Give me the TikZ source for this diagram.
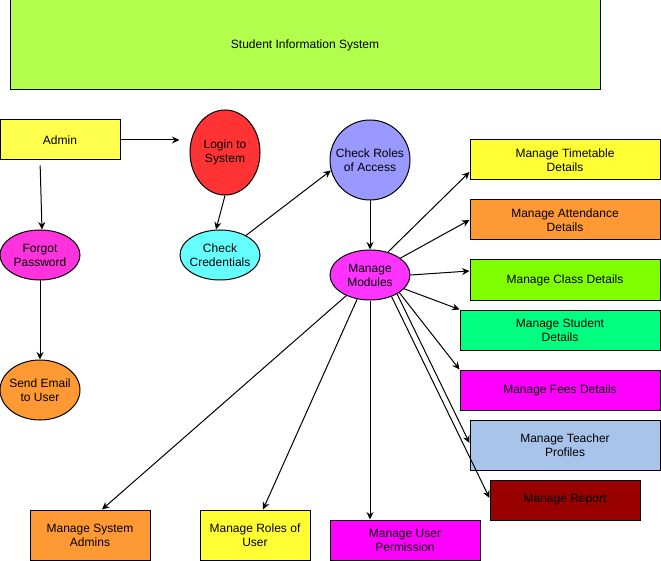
\documentclass[tikz,border=0pt]{standalone}
\usepackage{fontspec}
\setmainfont{Liberation Sans}
\usetikzlibrary{shapes.geometric,arrows.meta}
\definecolor{cTitle}{HTML}{B3FF4D}
\definecolor{cAdmin}{HTML}{FFFF4D}
\definecolor{cLogin}{HTML}{FF3333}
\definecolor{cCred}{HTML}{66FFFF}
\definecolor{cForgot}{HTML}{FF33DD}
\definecolor{cOrange}{HTML}{FF9933}
\definecolor{cRoles}{HTML}{9999FF}
\definecolor{cModules}{HTML}{FF33FF}
\definecolor{cYellow}{HTML}{FFFF33}
\definecolor{cClass}{HTML}{80FF00}
\definecolor{cStudent}{HTML}{00FF80}
\definecolor{cMagenta}{HTML}{FF00FF}
\definecolor{cTeacher}{HTML}{A9C4EB}
\definecolor{cReport}{HTML}{990000}
\tikzset{
  box/.style={draw, rectangle, line width=1pt, inner sep=0pt, align=center},
  ell/.style={draw, ellipse, line width=1pt, inner sep=0pt},
  etxt/.style={align=center, inner sep=0pt},
  arr/.style={line width=1pt, -{Stealth[length=7.5pt,width=7pt,inset=2.5pt]}},
}
\begin{document}
\begin{tikzpicture}[x=1pt,y=-1pt,font=\fontsize{12}{14}\selectfont]
\useasboundingbox (0,0) rectangle (661,561);
% title
\node[box, fill=cTitle, minimum width=590pt, minimum height=90pt] (title) at (305,45) {Student Information System};
% left part
\node[box, fill=cAdmin, minimum width=120pt, minimum height=40pt] (admin) at (60,140) {Admin};
\node[ell, fill=cLogin, minimum width=70pt, minimum height=85pt, label={[etxt]center:Login to\\System}] (login) at (225,152.5) {};
\node[ell, fill=cCred, minimum width=80pt, minimum height=50pt, label={[etxt]center:Check\\Credentials}] (cc) at (220,255) {};
\node[ell, fill=cForgot, minimum width=80pt, minimum height=50pt, label={[etxt]center:Forgot\\Password}] (fp) at (40,255) {};
\node[ell, fill=cOrange, minimum width=80pt, minimum height=60pt, label={[etxt]center:Send Email\\to User}] (se) at (40,390) {};
\node[ell, fill=cRoles, minimum width=80pt, minimum height=80pt, label={[etxt]center:Check Roles\\of Access}] (cr) at (370,160) {};
\node[ell, fill=cModules, minimum width=80pt, minimum height=50pt, label={[etxt]center:Manage\\Modules}] (mm) at (370,275) {};
% right boxes
\node[box, fill=cYellow, minimum width=190pt, minimum height=40pt] (tt) at (565,160) {Manage Timetable\\Details};
\node[box, fill=cOrange, minimum width=190pt, minimum height=40pt] (att) at (565,220) {Manage Attendance\\Details};
\node[box, fill=cClass, minimum width=190pt, minimum height=40pt] (cls) at (565,280) {Manage Class Details};
\node[box, fill=cStudent, minimum width=200pt, minimum height=40pt] (stu) at (560,330) {Manage Student\\Details};
\node[box, fill=cMagenta, minimum width=200pt, minimum height=40pt] (fee) at (560,390) {Manage Fees Details};
\node[box, fill=cTeacher, minimum width=190pt, minimum height=50pt] (tea) at (565,445) {Manage Teacher\\Profiles};
\node[box, fill=cReport, minimum width=150pt, minimum height=40pt] (rep) at (565,500) {Manage Report};
% bottom boxes
\node[box, fill=cOrange, minimum width=120pt, minimum height=50pt] (sa) at (90,535) {Manage System\\Admins};
\node[box, fill=cYellow, minimum width=110pt, minimum height=50pt] (ru) at (255,535) {Manage Roles of\\User};
\node[box, fill=cMagenta, minimum width=150pt, minimum height=40pt] (up) at (405,540) {Manage User\\Permission};
% connectors
\draw[arr, shorten >=10pt] (admin.east) -- (admin.east -| login.west);
\draw[arr, shorten <=5pt] ([xshift=-20pt]admin.south) -- ([xshift=2pt]fp.north);
\draw[arr] (login.south) -- ([xshift=-4pt]cc.north);
\draw[arr] (cc.37) -- (cr.195);
\draw[arr] (fp.south) -- (se.north);
\draw[arr] (cr.south) -- (mm.north);
\draw[arr] (mm.52) -- ([yshift=-12pt]tt.west);
\draw[arr] (mm.29) -- (att.west);
\draw[arr] (mm.east) -- ([yshift=9pt]cls.west);
\draw[arr] (mm.-22) -- (stu.north west);
\draw[arr] (mm.-31) -- (fee.north west);
\draw[arr] (mm.-35) -- ([yshift=2pt]tea.west);
\draw[arr] (mm.-45) -- ([yshift=2pt]rep.west);
\draw[arr] (mm.221) -- ([xshift=12pt]sa.north);
\draw[arr] (mm.242) -- ([xshift=8pt]ru.north);
\draw[arr] (mm.south) -- (mm.south |- up.north);
\end{tikzpicture}
\end{document}
